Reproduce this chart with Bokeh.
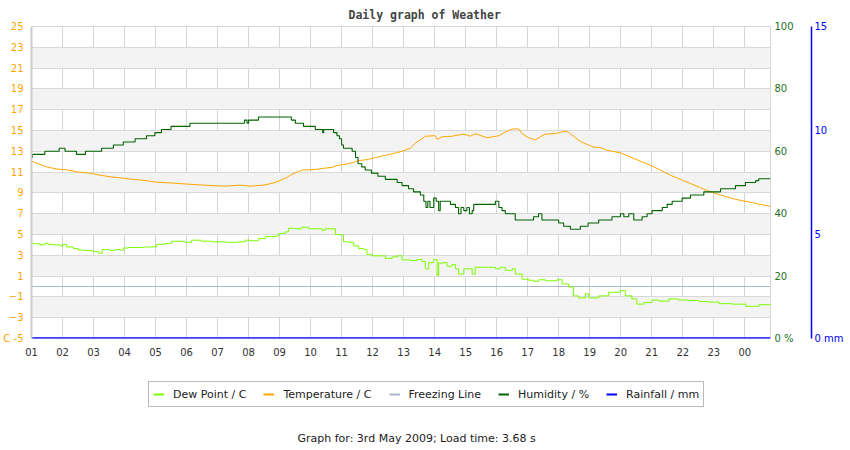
#
# Daily weather graph: dew point, temperature, humidity and rainfall
#
from bokeh.plotting import figure
from bokeh.layouts import column
from bokeh.models import Range1d, LinearAxis, FixedTicker, Legend, LegendItem, Label
from bokeh.embed import file_html
from bokeh.resources import INLINE

# Hours of the day (01 .. 00) and the labels shown under them
hour_ticks = list(range(1, 25))
hour_labels = ['01', '02', '03', '04', '05', '06', '07', '08', '09', '10', '11', '12',
               '13', '14', '15', '16', '17', '18', '19', '20', '21', '22', '23', '00']

# Axis ticks
temp_ticks = [-5, -3, -1, 1, 3, 5, 7, 9, 11, 13, 15, 17, 19, 21, 23, 25]
hum_ticks = [0, 20, 40, 60, 80, 100]
rain_ticks = [0, 5, 10, 15]

# Temperature in C
temp_hours = [1.00, 1.22, 1.48, 1.81, 2.18, 2.51, 2.88, 3.21, 3.53, 3.85,
              4.12, 4.66, 4.98, 5.52, 6.27, 6.81, 7.25, 7.73, 8.05, 8.48,
              8.65, 8.86, 9.02, 9.18, 9.35, 9.56, 9.74, 10.15, 10.37, 10.69,
              10.88, 11.12, 11.34, 11.55, 11.82, 12.09, 12.41, 12.68, 12.95, 13.22,
              13.38, 13.54, 13.70, 14.02, 14.08, 14.24, 14.56, 14.94, 15.15, 15.31,
              15.69, 16.07, 16.28, 16.50, 16.71, 16.82, 17.03, 17.25, 17.41, 17.57,
              17.89, 18.22, 18.32, 18.48, 18.70, 18.92, 19.13, 19.35, 19.56, 19.99,
              20.31, 20.64, 20.96, 21.28, 21.60, 21.93, 22.25, 22.57, 22.89, 23.32,
              23.75, 24.18, 24.50, 24.83]
temp_c = [12.05, 11.8, 11.5, 11.3, 11.2, 11.0, 10.9, 10.7, 10.55, 10.45,
          10.35, 10.2, 10.05, 9.95, 9.8, 9.7, 9.65, 9.75, 9.65, 9.75,
          9.85, 10.0, 10.2, 10.4, 10.7, 11.0, 11.2, 11.25, 11.35, 11.45,
          11.65, 11.75, 11.9, 12.1, 12.2, 12.4, 12.6, 12.8, 13.0, 13.3,
          13.8, 14.1, 14.45, 14.5, 14.15, 14.4, 14.45, 14.65, 14.45, 14.7,
          14.3, 14.5, 14.85, 15.15, 15.15, 14.7, 14.3, 14.1, 14.4, 14.65,
          14.7, 14.95, 14.8, 14.45, 13.95, 13.65, 13.4, 13.35, 13.1, 12.85,
          12.45, 12.05, 11.65, 11.2, 10.7, 10.3, 9.9, 9.5, 9.1, 8.7,
          8.35, 8.1, 7.9, 7.7]

# Dew point in C
dew_hours = [1.00, 1.11, 1.27, 1.43, 1.54, 1.70, 1.92, 2.02, 2.13, 2.35,
             2.51, 2.72, 2.99, 3.17, 3.28, 3.53, 3.69, 3.85, 3.96, 4.12,
             4.60, 5.03, 5.30, 5.52, 5.95, 6.16, 6.48, 6.81, 7.25, 7.68,
             7.89, 8.05, 8.32, 8.54, 8.86, 8.97, 9.18, 9.29, 9.51, 9.72,
             9.94, 10.37, 10.47, 10.80, 10.96, 11.06, 11.23, 11.39, 11.55, 11.71,
             11.82, 11.98, 12.41, 12.63, 12.79, 12.95, 13.22, 13.43, 13.59, 13.70,
             13.81, 13.97, 14.08, 14.13, 14.29, 14.40, 14.56, 14.67, 14.77, 14.94,
             15.21, 15.31, 15.96, 16.12, 16.28, 16.50, 16.60, 16.82, 17.03, 17.19,
             17.35, 17.57, 17.95, 18.11, 18.32, 18.48, 18.64, 18.86, 18.97, 19.29,
             19.61, 19.99, 20.15, 20.36, 20.52, 20.74, 21.01, 21.23, 21.55, 21.87,
             22.20, 22.52, 22.84, 23.17, 23.60, 24.03, 24.46, 24.83]
dew_c = [4.15, 4.1, 4.0, 4.15, 4.05, 4.0, 3.9, 4.05, 3.8, 3.65,
         3.5, 3.45, 3.35, 3.2, 3.55, 3.45, 3.55, 3.5, 3.7, 3.75,
         3.8, 4.05, 4.15, 4.35, 4.25, 4.45, 4.35, 4.3, 4.25, 4.3,
         4.45, 4.4, 4.6, 4.8, 4.85, 5.1, 5.25, 5.6, 5.55, 5.7,
         5.55, 5.4, 5.55, 5.0, 4.95, 4.3, 4.25, 3.9, 3.65, 3.55,
         3.1, 2.95, 2.7, 2.85, 2.95, 2.55, 2.5, 2.6, 2.4, 1.7,
         2.3, 2.6, 1.05, 2.25, 2.3, 1.95, 2.1, 1.7, 1.2, 1.7,
         1.2, 1.85, 1.7, 1.85, 1.55, 1.7, 1.2, 0.7, 0.6, 0.5,
         0.65, 0.55, 0.65, 0.25, -0.05, -0.9, -1.1, -0.7, -1.1, -0.9,
         -0.55, -0.4, -0.9, -1.2, -1.7, -1.55, -1.3, -1.4, -1.2, -1.3,
         -1.35, -1.45, -1.5, -1.65, -1.7, -1.9, -1.75, -1.85]

# Humidity in %
hum_hours = [1.00, 1.03, 1.43, 1.89, 2.08, 2.45, 2.74, 3.26, 3.64, 3.96,
             4.34, 4.71, 4.98, 5.19, 5.50, 6.11, 7.87, 7.95, 8.00, 8.32,
             9.38, 9.51, 9.77, 10.15, 10.39, 10.42, 10.69, 10.74, 10.85, 10.93,
             11.00, 11.06, 11.34, 11.45, 11.53, 11.65, 11.76, 11.96, 12.17, 12.41,
             12.79, 12.95, 13.16, 13.32, 13.54, 13.65, 13.72, 13.78, 13.85, 13.97,
             14.05, 14.13, 14.18, 14.35, 14.51, 14.67, 14.77, 14.85, 14.94, 15.04,
             15.12, 15.21, 15.26, 15.96, 16.07, 16.17, 16.28, 16.60, 17.19, 17.35,
             17.46, 18.00, 18.16, 18.38, 18.70, 18.95, 19.29, 19.72, 19.99, 20.10,
             20.26, 20.42, 20.69, 20.85, 21.01, 21.34, 21.50, 21.66, 21.98, 22.25,
             22.68, 23.22, 23.70, 24.02, 24.35, 24.45, 24.83]
hum_pct = [58, 59, 60, 61, 60, 59, 60, 61, 62, 63,
           64, 65, 66, 67, 68, 69, 70, 69, 70, 71,
           70, 69, 68, 67, 66, 67, 67, 66, 65, 64,
           62, 61, 60, 58, 56, 55, 54, 53, 52, 51,
           50, 49, 48, 47, 46, 44, 42, 44, 42, 45,
           44, 41, 44, 44, 43, 42, 40, 42, 41, 42,
           40, 41, 43, 44, 42, 41, 40, 38, 39, 40,
           38, 37, 36, 35, 36, 37, 38, 39, 40, 39,
           40, 38, 39, 40, 41, 42, 43, 44, 45, 46,
           47, 48, 49, 50, 50.6, 51.2, 51.2]

# Rainfall in mm (none that day) and the freezing line at 0 C
rain_hours = [1.00, 24.83]
rain_mm = [0, 0]
freeze_hours = [1.00, 24.83]
freeze_c = [0, 0]

# Colours of the series
colors = {'dew': '#7cfc00', 'temp': 'orange', 'freeze': '#a9b6cc', 'hum': '#006400', 'rain': 'blue'}

p = figure(width=850, height=370, output_backend="svg", toolbar_location=None,
           x_range=Range1d(temp_hours[0], temp_hours[-1]), y_range=Range1d(-5, 25),
           min_border_left=31, min_border_right=80, min_border_top=24, min_border_bottom=32,
           background_fill_color='white', border_fill_color='white')
p.extra_y_ranges = {'hum': Range1d(0, 100), 'rain': Range1d(0, 15)}
p.outline_line_color = '#d4d4d4'

# Title above the plot
p.title.text = 'Daily graph of Weather'
p.title.align = 'left'
p.title.offset = 317
p.title.standoff = 10
p.title.vertical_align = 'bottom'
p.title.text_font = 'DejaVu Sans Mono'
p.title.text_font_style = 'bold'
p.title.text_font_size = '11.5px'
p.title.text_color = '#444444'

# Bottom axis with the hours
p.xaxis.ticker = FixedTicker(ticks=hour_ticks)
p.xaxis.major_label_overrides = dict(zip(hour_ticks, hour_labels))
p.xaxis.axis_line_color = None
p.xaxis.major_tick_out = 0
p.xaxis.major_tick_in = 0
p.xaxis.major_tick_line_color = None
p.xaxis.minor_tick_line_color = None
p.xaxis.major_label_standoff = 9
p.xaxis.major_label_text_font = 'DejaVu Sans'
p.xaxis.major_label_text_font_size = '10px'
p.xaxis.major_label_text_color = '#333333'

# Left axis for temperatures, the unit sits beside the lowest tick
p.yaxis.ticker = FixedTicker(ticks=temp_ticks)
p.yaxis.major_label_overrides = {-5: 'C -5'}
p.yaxis.axis_line_color = '#cccccc'
p.yaxis.axis_line_width = 2
p.yaxis.major_tick_out = 0
p.yaxis.major_tick_in = 0
p.yaxis.major_tick_line_color = None
p.yaxis.minor_tick_line_color = None
p.yaxis.major_label_standoff = 8
p.yaxis.major_label_text_font = 'DejaVu Sans'
p.yaxis.major_label_text_font_size = '10px'
p.yaxis.major_label_text_color = 'orange'

# Grid with grey bands
p.xgrid.grid_line_color = '#d4d4d4'
p.ygrid.grid_line_color = '#d9d9d9'
p.ygrid.band_fill_color = '#f3f3f3'
p.ygrid.band_fill_alpha = 1.0

# Humidity axis, then the rainfall axis further right
hum_axis = LinearAxis(y_range_name='hum', ticker=FixedTicker(ticks=hum_ticks),
                      major_label_overrides={0: '0 %'}, axis_line_color=None,
                      major_tick_out=0, major_tick_in=0,
                      major_tick_line_color=None, minor_tick_line_color=None,
                      major_label_standoff=4, major_label_text_font='DejaVu Sans',
                      major_label_text_font_size='10px', major_label_text_color='#1e6e1e',
                      axis_label=' ', axis_label_standoff=1, axis_label_text_font_size='10px')
p.add_layout(hum_axis, 'right')
rain_axis = LinearAxis(y_range_name='rain', ticker=FixedTicker(ticks=rain_ticks),
                       major_label_overrides={0: '0 mm'}, axis_line_color='blue',
                       axis_line_width=1.5, major_tick_out=0, major_tick_in=0,
                       major_tick_line_color=None, minor_tick_line_color=None,
                       major_label_standoff=3, major_label_text_font='DejaVu Sans',
                       major_label_text_font_size='10px', major_label_text_color='blue')
p.add_layout(rain_axis, 'right')

# The series
p.line(freeze_hours, freeze_c, line_color=colors['freeze'], line_width=1)
p.line(rain_hours, rain_mm, y_range_name='rain', line_color=colors['rain'], line_width=2.5)
p.step(dew_hours, dew_c, mode='after', line_color=colors['dew'], line_width=1)
p.line(temp_hours, temp_c, line_color=colors['temp'], line_width=1)
p.step(hum_hours, hum_pct, mode='after', y_range_name='hum', line_color=colors['hum'], line_width=1.1)

# Strip under the chart holding the legend and the footer
# (the column lines its frame up with the chart's, so x is counted from the plot's left edge)
q = figure(width=850, height=80, output_backend="svg", toolbar_location=None,
           x_axis_type=None, y_axis_type=None, min_border=0,
           background_fill_color='white', border_fill_color='white')
q.outline_line_color = None
# hidden copies of the series, only used to draw the legend keys
k_dew = q.step(dew_hours, dew_c, mode='after', line_color=colors['dew'], line_width=2, visible=False)
k_temp = q.line(temp_hours, temp_c, line_color=colors['temp'], line_width=2, visible=False)
k_freeze = q.line(freeze_hours, freeze_c, line_color=colors['freeze'], line_width=2, visible=False)
k_hum = q.step(hum_hours, hum_pct, mode='after', line_color=colors['hum'], line_width=2, visible=False)
k_rain = q.line(rain_hours, rain_mm, line_color=colors['rain'], line_width=2, visible=False)

legend = Legend(items=[LegendItem(label='Dew Point / C', renderers=[k_dew]),
                       LegendItem(label='Temperature / C', renderers=[k_temp]),
                       LegendItem(label='Freezing Line', renderers=[k_freeze]),
                       LegendItem(label='Humidity / %', renderers=[k_hum]),
                       LegendItem(label='Rainfall / mm', renderers=[k_rain])],
                orientation='horizontal', location=(117, 43), margin=0, padding=4,
                spacing=17, glyph_width=11, glyph_height=16, label_height=16,
                label_standoff=9, label_text_font='DejaVu Sans', label_text_font_size='11px',
                label_text_color='#222222', border_line_color='#777777', border_line_width=1,
                background_fill_color='white', background_fill_alpha=1.0,
                inactive_fill_alpha=0.0)
q.add_layout(legend)

q.add_layout(Label(x=266, y=12, x_units='screen', y_units='screen',
                   text='Graph for: 3rd May 2009; Load time: 3.68 s',
                   text_align='left', text_baseline='middle', text_font='DejaVu Sans',
                   text_font_size='11px', text_color='#222222'))

open("out.html", "w").write(file_html(column(p, q), INLINE))
